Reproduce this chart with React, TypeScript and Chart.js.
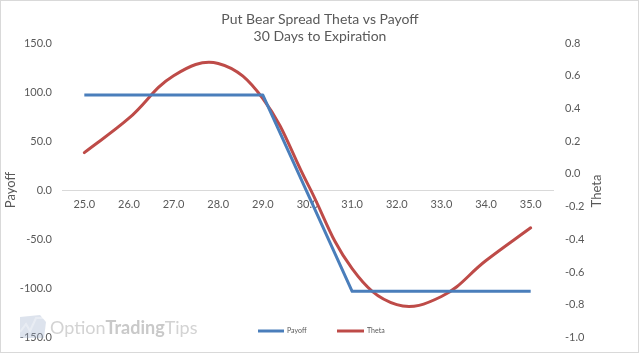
import React, { useEffect, useRef } from 'react';
import { Chart, registerables } from 'chart.js';

Chart.register(...registerables);

const strikes = ['25.0', '26.0', '27.0', '28.0', '29.0', '30.0', '31.0', '32.0', '33.0', '34.0', '35.0'];
const payoff = [97, 97, 97, 97, 97, -3, -103, -103, -103, -103, -103];
const theta = [0.13, 0.34, 0.6, 0.675, 0.46, -0.06, -0.58, -0.8, -0.75, -0.53, -0.33];
const titleLines = ['Put Bear Spread Theta vs Payoff', '30 Days to Expiration'];
const payoffLabel = 'Payoff';
const thetaLabel = 'Theta';
const watermarkParts = ['Option', 'Trading', 'Tips'];

const FONT = 'Lato, "Open Sans", sans-serif';
const TEXT = '#595959';
const BLUE = '#4A7EBB';
const RED = '#BE4B48';

const decorPlugin = {
  id: 'decor',
  beforeDatasetsDraw(chart: any) {
    const ctx = chart.ctx as CanvasRenderingContext2D;
    ctx.save();
    // watermark logo
    ctx.globalAlpha = 0.35;
    ctx.fillStyle = '#9fb0cc';
    ctx.beginPath();
    ctx.moveTo(20, 317);
    ctx.lineTo(40, 315);
    ctx.lineTo(46, 322);
    ctx.lineTo(44, 338);
    ctx.lineTo(20, 338);
    ctx.closePath();
    ctx.fill();
    ctx.strokeStyle = '#ffffff';
    ctx.lineWidth = 2;
    ctx.beginPath();
    ctx.moveTo(20, 332);
    ctx.lineTo(26, 324);
    ctx.lineTo(30, 331);
    ctx.lineTo(36, 318);
    ctx.lineTo(44, 318);
    ctx.stroke();
    // watermark text
    ctx.globalAlpha = 1;
    ctx.textBaseline = 'alphabetic';
    ctx.textAlign = 'left';
    let x = 50;
    const weights = ['normal', 'bold', 'normal'];
    const colors = ['#d3d3d3', '#c9c9c9', '#d3d3d3'];
    watermarkParts.forEach((p, i) => {
      ctx.font = `${weights[i]} 18px ${FONT}`;
      ctx.fillStyle = colors[i];
      ctx.fillText(p, x, 334);
      x += ctx.measureText(p).width;
    });
    ctx.restore();
  },
  afterDraw(chart: any) {
    const ctx = chart.ctx as CanvasRenderingContext2D;
    ctx.save();
    // outer border
    ctx.strokeStyle = '#d9d9d9';
    ctx.lineWidth = 1;
    ctx.strokeRect(0.5, 0.5, 638, 352);
    // title
    ctx.fillStyle = TEXT;
    ctx.textAlign = 'center';
    ctx.textBaseline = 'middle';
    ctx.font = `14px ${FONT}`;
    ctx.fillText(titleLines[0], 320, 19);
    ctx.fillText(titleLines[1], 320, 36);
    // axis titles
    ctx.font = `13px ${FONT}`;
    ctx.save();
    ctx.translate(11, 190);
    ctx.rotate(-Math.PI / 2);
    ctx.fillText(payoffLabel, 0, 0);
    ctx.restore();
    ctx.save();
    ctx.translate(597, 191);
    ctx.rotate(-Math.PI / 2);
    ctx.fillText(thetaLabel, 0, 0);
    ctx.restore();
    // legend
    ctx.lineWidth = 3;
    ctx.strokeStyle = BLUE;
    ctx.beginPath();
    ctx.moveTo(258, 331);
    ctx.lineTo(284, 331);
    ctx.stroke();
    ctx.strokeStyle = RED;
    ctx.beginPath();
    ctx.moveTo(337, 331);
    ctx.lineTo(364, 331);
    ctx.stroke();
    ctx.font = `7px ${FONT}`;
    ctx.textAlign = 'left';
    ctx.fillStyle = TEXT;
    ctx.fillText(payoffLabel, 287, 331);
    ctx.fillText(thetaLabel, 367, 331);
    ctx.restore();
  },
};

export default function App() {
  const ref = useRef<HTMLCanvasElement | null>(null);
  useEffect(() => {
    document.body.style.margin = '0';
    const canvas = ref.current;
    if (!canvas) return;
    const chart = new Chart(canvas, {
      type: 'line',
      data: {
        labels: strikes,
        datasets: [
          {
            label: payoffLabel,
            data: payoff,
            yAxisID: 'y',
            borderColor: BLUE,
            backgroundColor: BLUE,
            borderWidth: 3,
            pointRadius: 0,
            tension: 0,
            borderJoinStyle: 'round',
          },
          {
            label: thetaLabel,
            data: theta,
            yAxisID: 'y1',
            borderColor: RED,
            backgroundColor: RED,
            borderWidth: 3,
            pointRadius: 0,
            tension: 0.4,
            borderCapStyle: 'round',
          },
        ],
      },
      options: {
        responsive: false,
        animation: false,
        layout: { padding: { top: 43, bottom: 16, left: 0, right: 0 } },
        plugins: {
          legend: { display: false },
          title: { display: false },
          tooltip: { enabled: false },
        },
        scales: {
          x: {
            type: 'category',
            offset: true,
            position: { y: 0 } as any,
            grid: { display: false, drawTicks: false },
            border: { display: true, color: '#d9d9d9', width: 1 },
            ticks: { color: TEXT, font: { family: FONT, size: 11 }, padding: 8, maxRotation: 0, autoSkip: false },
            afterFit: (s: any) => {
              s.height = 0;
            },
          },
          y: {
            position: 'left',
            min: -150,
            max: 150,
            grid: { display: false, drawTicks: false },
            border: { display: false },
            ticks: {
              stepSize: 50,
              color: TEXT,
              font: { family: FONT, size: 11 },
              padding: 10,
              callback: (v: any) => Number(v).toFixed(1),
            },
            afterFit: (s: any) => {
              s.width = 62;
            },
          },
          y1: {
            position: 'right',
            min: -1.0,
            max: 0.8,
            grid: { display: false, drawTicks: false },
            border: { display: false },
            ticks: {
              stepSize: 0.2,
              color: TEXT,
              font: { family: FONT, size: 11 },
              padding: 12,
              callback: (v: any) => Number(v).toFixed(1),
            },
            afterFit: (s: any) => {
              s.width = 87;
            },
          },
        },
      },
      plugins: [decorPlugin],
    });
    return () => chart.destroy();
  }, []);
  return (
    <div style={{ position: 'fixed', left: 0, top: 0, width: 640, height: 353, overflow: 'hidden', background: '#fff' }}>
      <canvas ref={ref} width={640} height={356} style={{ display: 'block' }} />
    </div>
  );
}
